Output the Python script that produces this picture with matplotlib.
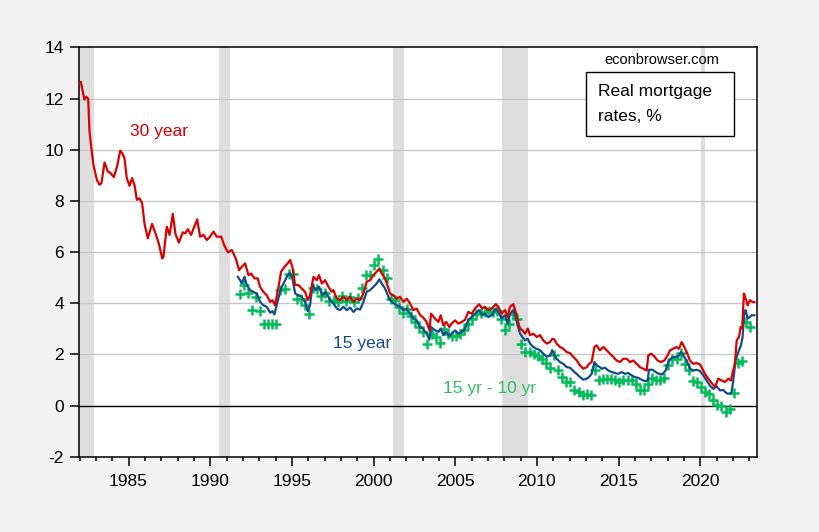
import matplotlib
matplotlib.use("Agg")
import matplotlib.pyplot as plt
from matplotlib.ticker import MultipleLocator
from matplotlib.patches import Rectangle

plt.rcParams['font.family'] = ['Liberation Sans', 'DejaVu Sans']
plt.rcParams['axes.unicode_minus'] = False

# ---------------- data ----------------
t30 = [1982.00,1982.08,1982.30,1982.41,1982.53,1982.61,1982.71,1982.85,1983.06,1983.22,1983.34,1983.53,1983.73,1983.89,
       1984.10,1984.30,1984.49,1984.61,1984.75,1984.89,1985.06,1985.22,1985.36,1985.51,1985.67,1985.83,1985.99,1986.18,
       1986.44,1986.65,1986.85,1987.06,1987.14,1987.34,1987.51,1987.71,1987.87,1988.08,1988.32,1988.48,1988.63,1988.83,
       1988.99,1989.20,1989.38,1989.59,1989.79,1989.99,1990.20,1990.40,1990.67,1990.87,1991.08,1991.32,1991.56,1991.77,
       1991.93,1992.14,1992.34,1992.50,1992.71,1992.91,1993.05,1993.26,1993.46,1993.67,1993.81,1993.97,1994.18,1994.34,
       1994.54,1994.75,1994.89,1995.03,1995.20,1995.40,1995.60,1995.81,1995.97,1996.11,1996.32,1996.52,1996.66,1996.83,
       1997.03,1997.24,1997.44,1997.54,1997.75,1997.95,1998.15,1998.36,1998.56,1998.77,1998.97,1999.17,1999.38,1999.58,
       1999.79,1999.99,2000.19,2000.36,2000.50,2000.70,2000.91,2001.01,2001.21,2001.42,2001.62,2001.83,2002.03,2002.23,
       2002.44,2002.64,2002.85,2003.01,2003.25,2003.42,2003.52,2003.76,2003.97,2004.11,2004.27,2004.44,2004.64,2004.78,
       2004.99,2005.19,2005.40,2005.60,2005.80,2006.01,2006.21,2006.46,2006.66,2006.82,2007.03,2007.23,2007.48,2007.64,
       2007.84,2008.05,2008.21,2008.35,2008.56,2008.70,2008.82,2008.97,2009.11,2009.27,2009.44,2009.58,2009.78,2009.99,
       2010.19,2010.39,2010.60,2010.80,2010.94,2011.07,2011.21,2011.41,2011.62,2011.82,2012.03,2012.23,2012.43,2012.64,
       2012.84,2013.05,2013.19,2013.35,2013.52,2013.66,2013.86,2014.07,2014.27,2014.47,2014.68,2014.88,2015.09,2015.29,
       2015.49,2015.70,2015.90,2016.11,2016.31,2016.51,2016.72,2016.82,2016.98,2017.19,2017.39,2017.60,2017.80,2018.00,
       2018.15,2018.35,2018.55,2018.70,2018.86,2019.02,2019.17,2019.37,2019.57,2019.78,2019.98,2020.12,2020.29,2020.49,
       2020.70,2020.90,2021.10,2021.31,2021.51,2021.72,2021.88,2021.96,2022.12,2022.23,2022.37,2022.47,2022.57,2022.67,
       2022.78,2022.90,2023.04,2023.19,2023.31]
r30 = [12.61,12.65,11.96,12.07,11.99,10.72,10.13,9.41,8.82,8.63,8.69,9.50,9.15,9.09,
       8.93,9.35,9.96,9.87,9.67,8.89,8.59,8.89,8.63,8.04,8.10,7.91,7.06,6.54,
       7.10,6.73,6.34,5.75,5.82,6.99,6.67,7.49,6.71,6.37,6.77,6.73,6.89,6.67,
       6.93,7.28,6.60,6.67,6.47,6.60,6.80,6.60,6.60,6.25,5.99,6.08,5.75,5.29,
       5.42,5.56,5.10,5.16,4.97,4.97,4.64,4.44,4.31,4.05,4.12,3.92,4.64,5.23,
       5.42,5.56,5.69,5.42,4.71,4.71,4.58,4.44,4.12,4.31,5.03,4.90,5.10,4.77,
       4.90,4.64,4.45,4.51,4.18,4.12,4.25,4.12,4.25,4.05,4.18,4.12,4.38,4.84,
       4.90,5.10,5.23,5.36,5.16,4.97,4.58,4.38,4.31,4.18,4.25,4.05,4.18,3.99,
       3.73,3.79,3.53,3.46,3.27,2.94,3.59,3.40,3.27,3.53,3.14,3.27,3.07,3.20,
       3.33,3.20,3.27,3.35,3.66,3.59,3.79,3.96,3.79,3.86,3.73,3.79,3.96,3.86,
       3.59,3.73,3.46,3.86,3.96,3.66,3.33,3.01,2.94,2.81,3.01,2.75,2.81,2.68,
       2.75,2.55,2.42,2.48,2.61,2.58,2.42,2.29,2.22,2.09,2.05,1.90,1.77,1.57,
       1.44,1.50,1.63,1.70,2.29,2.35,2.16,2.29,2.16,2.03,1.90,1.76,1.70,1.83,
       1.83,1.70,1.76,1.63,1.50,1.44,1.37,1.96,2.03,1.92,1.76,1.70,1.76,1.96,
       2.16,2.22,2.29,2.22,2.48,2.29,2.09,1.76,1.63,1.66,1.61,1.44,1.24,1.05,
       0.88,0.72,1.05,0.98,0.92,1.05,0.98,1.24,1.63,2.55,2.68,3.07,3.01,4.38,
       4.18,3.92,4.12,4.05,4.05]

t15 = [1991.69,1991.83,1991.93,1992.10,1992.24,1992.44,1992.65,1992.85,1993.05,1993.26,1993.46,1993.67,1993.81,1993.93,
       1994.14,1994.34,1994.54,1994.75,1994.87,1995.03,1995.20,1995.40,1995.60,1995.81,1995.97,1996.11,1996.26,1996.46,
       1996.66,1996.87,1997.07,1997.34,1997.54,1997.75,1997.95,1998.15,1998.36,1998.56,1998.77,1998.97,1999.17,1999.38,
       1999.58,1999.79,1999.99,2000.19,2000.36,2000.50,2000.70,2000.91,2001.01,2001.21,2001.42,2001.62,2001.83,2002.03,
       2002.23,2002.44,2002.64,2002.85,2003.01,2003.25,2003.42,2003.52,2003.76,2003.97,2004.11,2004.27,2004.44,2004.64,
       2004.78,2004.99,2005.19,2005.40,2005.60,2005.80,2006.01,2006.21,2006.46,2006.66,2006.82,2007.03,2007.23,2007.48,
       2007.64,2007.84,2008.05,2008.21,2008.35,2008.56,2008.70,2008.82,2008.97,2009.11,2009.27,2009.44,2009.58,2009.78,
       2009.99,2010.19,2010.39,2010.60,2010.80,2010.94,2011.07,2011.21,2011.41,2011.62,2011.82,2012.03,2012.23,2012.43,
       2012.64,2012.84,2013.05,2013.19,2013.35,2013.52,2013.66,2013.86,2013.96,2014.17,2014.37,2014.58,2014.78,2014.98,
       2015.19,2015.39,2015.60,2015.80,2016.00,2016.21,2016.41,2016.62,2016.78,2016.86,2017.07,2017.27,2017.47,2017.68,
       2017.88,2018.04,2018.25,2018.45,2018.66,2018.82,2018.96,2019.17,2019.37,2019.57,2019.78,2019.98,2020.19,2020.39,
       2020.59,2020.80,2021.00,2021.21,2021.41,2021.61,2021.82,2021.92,2022.02,2022.16,2022.33,2022.49,2022.59,2022.70,
       2022.78,2022.90,2023.04,2023.15,2023.31]
r15 = [5.03,4.90,4.77,5.03,4.71,4.51,4.44,4.38,4.05,3.92,3.86,3.63,3.69,3.56,
       4.12,4.58,4.84,5.10,5.18,4.97,4.38,4.31,4.25,4.05,3.69,3.92,4.71,4.51,
       4.64,4.31,4.44,4.12,3.99,3.79,3.73,3.86,3.73,3.83,3.66,3.79,3.75,4.05,
       4.45,4.51,4.64,4.77,4.93,4.77,4.58,4.25,4.12,4.01,3.92,3.86,3.73,3.79,
       3.59,3.40,3.33,3.07,3.01,2.81,2.58,3.07,2.94,2.88,3.01,2.75,2.88,2.71,
       2.81,2.94,2.81,2.88,3.00,3.35,3.46,3.59,3.73,3.53,3.59,3.46,3.53,3.79,
       3.66,3.40,3.53,3.20,3.59,3.73,3.46,3.14,2.81,2.68,2.55,2.61,2.42,2.29,
       2.22,2.16,2.03,1.90,1.96,2.16,1.96,1.83,1.70,1.63,1.50,1.48,1.35,1.24,
       1.11,1.01,1.05,1.11,1.24,1.70,1.57,1.50,1.44,1.48,1.37,1.31,1.27,1.24,
       1.31,1.24,1.27,1.18,1.11,1.08,1.01,0.95,0.98,1.40,1.40,1.31,1.24,1.22,
       1.37,1.70,1.87,1.90,1.92,2.09,1.96,1.76,1.44,1.37,1.40,1.35,1.18,0.98,
       0.78,0.65,0.75,0.59,0.61,0.48,0.46,0.52,0.98,1.76,2.09,2.35,2.68,3.66,
       3.73,3.40,3.46,3.53,3.53]

# 15 yr rate minus 10 yr expected inflation, quarterly from 1991Q4
q_start = 1991.80
r15_10 = [4.35,4.71,4.40,3.75,4.25,3.68,3.20,3.20,3.20,3.20,
          4.52,4.55,5.16,5.16,4.18,4.18,3.92,3.57,4.58,4.55,
          4.30,4.40,4.10,4.12,4.05,4.30,4.10,4.25,4.05,4.20,
          4.60,5.10,5.10,5.49,5.71,5.30,4.97,4.18,4.12,3.85,
          3.62,3.79,3.50,3.27,3.07,2.88,2.42,2.81,2.68,2.45,
          3.01,2.80,2.70,2.70,2.80,2.95,3.20,3.40,3.59,3.62,
          3.66,3.70,3.65,3.70,3.40,2.94,3.20,3.59,3.40,2.42,
          2.09,2.09,2.03,1.95,1.80,1.65,1.48,1.96,1.40,1.11,
          0.92,0.92,0.59,0.52,0.40,0.46,0.40,1.37,1.01,1.05,
          1.05,1.05,1.01,0.92,0.98,1.01,0.98,0.85,0.61,0.61,
          0.85,1.08,0.98,0.98,1.08,1.57,1.83,1.83,2.05,1.63,
          1.37,0.94,0.92,0.72,0.52,0.46,0.20,0.04,0.00,-0.26,
          -0.13,0.48,1.65,1.76,3.25,3.07]
tq = [q_start + 0.25 * i for i in range(len(r15_10))]

recessions = [(1981.5, 1982.88), (1990.55, 1991.21), (2001.16, 2001.85),
              (2007.88, 2009.46), (2020.06, 2020.32)]

year_ticks = [1985, 1990, 1995, 2000, 2005, 2010, 2015, 2020]
y_ticks = [-2, 0, 2, 4, 6, 8, 10, 12, 14]

RED = '#DA0000'
BLUE = '#124C8C'
GREEN = '#00BC5A'

# ---------------- figure ----------------
fig = plt.figure(figsize=(8.2, 5.32), dpi=100, facecolor='#F2F2F2')
ax = fig.add_axes([0.0960, 0.1415, 0.8277, 0.7695])
ax.set_facecolor('white')

for a, b in recessions:
    ax.axvspan(a, b, color='#DEDEDE', lw=0, zorder=0)

for yv in y_ticks:
    if yv not in (-2, 0, 14):
        ax.axhline(yv, color='#C8C8C8', lw=1.0, zorder=1)
ax.axhline(0, color='black', lw=1.0, zorder=2)

ax.plot(tq, r15_10, linestyle='none', marker='+', ms=7.5, mew=1.8, color=GREEN, zorder=3)
ax.plot(t15, r15, color=BLUE, lw=1.6, zorder=4)
ax.plot(t30, r30, color=RED, lw=1.6, zorder=5)

ax.set_xlim(1981.95, 2023.5)
ax.set_ylim(-2, 14)
ax.set_xticks(year_ticks)
ax.xaxis.set_minor_locator(MultipleLocator(1))
ax.set_yticks(y_ticks)
ax.tick_params(axis='both', which='major', direction='out', length=6.7, width=1.1,
               labelsize=12.5, colors='black')
ax.tick_params(axis='x', which='minor', direction='out', length=3.1, width=1.1)
ax.tick_params(axis='x', pad=6)
ax.tick_params(axis='y', pad=4)
for s in ax.spines.values():
    s.set_color('black')
    s.set_linewidth(1.1)

ax.text(1985.1, 10.72, '30 year', color=RED, fontsize=12.5, ha='left', va='center', zorder=6)
ax.text(1997.5, 2.42, '15 year', color=BLUE, fontsize=12.5, ha='left', va='center', zorder=6)
ax.text(2004.25, 0.68, '15 yr - 10 yr', color='#2EC060', fontsize=12.5, ha='left', va='center', zorder=6)
ax.text(2017.64, 13.5, 'econbrowser.com', color='black', fontsize=10.5, ha='center', va='center', zorder=6)
ax.add_patch(Rectangle((2013.0, 10.54), 9.08, 2.51, facecolor='white', edgecolor='black',
                       lw=1.0, zorder=7))
ax.text(2013.72, 12.27, 'Real mortgage', color='black', fontsize=12.5, ha='left', va='center', zorder=8)
ax.text(2013.72, 11.29, 'rates, %', color='black', fontsize=12.5, ha='left', va='center', zorder=8)

fig.savefig('out.png', dpi=100, facecolor=fig.get_facecolor())
